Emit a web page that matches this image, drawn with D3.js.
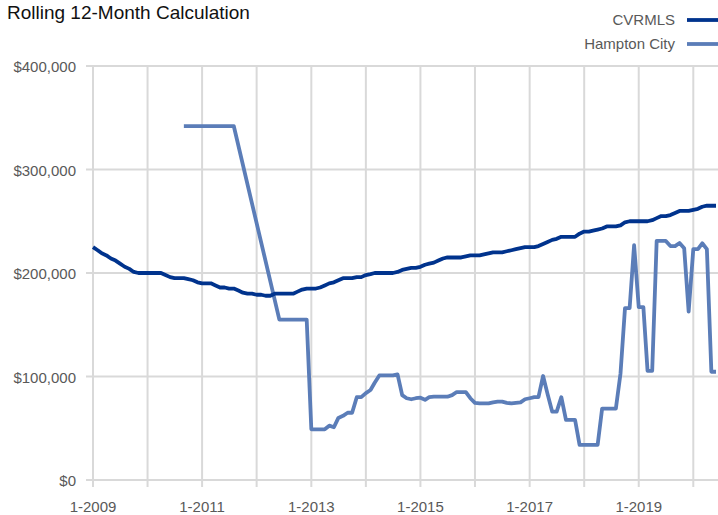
<html>
    <head>
        <script src="https://d3js.org/d3.v7.min.js"></script>
        <style>
            body { margin: 0; background: #fff; }
            svg { font-family: "Liberation Sans", Arial, sans-serif; }
            .grid line { stroke: #d9d9d9; stroke-width: 2; }
            .tick-label { font-size: 15px; fill: #595959; }
            .line { fill: none; stroke-width: 3.8; stroke-linejoin: round; }
        </style>
    </head>
    <body>
        <div id="chart"></div>
        <script>
        // monthly values in $1000s, first month is Jan 2009
        var firstMonth = "2009-01";
        var seriesNames = ["CVRMLS", "Hampton City"];

        var cvrmls = [
            225, 222, 219, 217, 214, 212, 209, 206, 204, 201, 200, 200,
            200, 200, 200, 200, 198, 196, 195, 195, 195, 194, 193, 191,
            190, 190, 190, 188, 186, 186, 185, 185, 183, 181, 180, 180,
            179, 179, 178, 178, 180, 180, 180, 180, 180, 182, 184, 185,
            185, 185, 186, 188, 190, 191, 193, 195, 195, 195, 196, 196,
            198, 199, 200, 200, 200, 200, 200, 201, 203, 204, 205, 205,
            206, 208, 209, 210, 212, 214, 215, 215, 215, 215, 216, 217,
            217, 217, 218, 219, 220, 220, 220, 221, 222, 223, 224, 225,
            225, 225, 226, 228, 230, 232, 233, 235, 235, 235, 235, 238,
            240, 240, 241, 242, 243, 245, 245, 245, 246, 249, 250, 250,
            250, 250, 250, 251, 253, 255, 255, 256, 258, 260, 260, 260,
            261, 262, 264, 265, 265, 265
        ];

        var hampton = [
            null, null, null, null, null, null, null, null, null, null, null, null,
            null, null, null, null, null, null, null, null, 342, 342, 342, 342,
            342, 342, 342, 342, 342, 342, 342, 342, null, null, null, null,
            null, null, null, null, null, 155, 155, 155, 155, 155, 155, 155,
            49, 49, 49, 49, 52.5, 51, 60, 62, 65, 65, 80, 80,
            84, 87, 94, 101, 101, 101, 101, 102, 82, 79, 78, 79,
            79.5, 77.5, 80, 80.5, 80.5, 80.5, 80.5, 82, 85, 85, 85, 79,
            74.5, 74, 74, 74, 75, 75.7, 75.7, 74.5, 74, 74.6, 75, 78,
            79, 80, 80, 100.5, 83, 66, 66, 80, 58, 58, 58, 34,
            34, 34, 34, 34, 69, 69, 69, 69, 103, 166, 166, 227,
            167, 167, 105.5, 105.5, 231, 231, 231, 226, 226, 229, 224, 162.6,
            223, 223, 228.7, 223, 104.6, 104.6
        ];

        var yTicks = [0, 100000, 200000, 300000, 400000];
        var labelYears = [2009, 2011, 2013, 2015, 2017, 2019];

        var width = 718;
        var height = 515;
        var plotLeft = 93, plotRight = 716, plotTop = 66, plotBottom = 480;
        var color = d3.scaleOrdinal(seriesNames, ["#00338d", "#5b7db8"]);

        var start = d3.timeParse("%Y-%m")(firstMonth);
        function toPoints(values) {
            return values.map(function(v, i) {
                return {date: d3.timeMonth.offset(start, i), value: v == null ? null : v * 1000};
            }).filter(function(d) { return d.value != null; });
        }
        var data = [
            {name: seriesNames[0], values: toPoints(cvrmls)},
            {name: seriesNames[1], values: toPoints(hampton)}
        ];

        var xScale = d3.scaleTime()
            .domain([start, d3.timeMonth.offset(start, cvrmls.length - 1)])
            .range([plotLeft, plotRight]);
        var yScale = d3.scaleLinear()
            .domain([0, 400000])
            .range([plotBottom, plotTop]);

        var svg = d3.select("#chart").append("svg")
            .attr("width", width)
            .attr("height", height);

        /* grid */
        var grid = svg.append("g").attr("class", "grid");
        grid.selectAll(".h").data(yTicks).enter().append("line")
            .attr("x1", plotLeft - 7).attr("x2", width)
            .attr("y1", d => yScale(d)).attr("y2", d => yScale(d));
        var years = d3.timeYear.range(start, xScale.domain()[1]);
        grid.selectAll(".v").data(years).enter().append("line")
            .attr("x1", d => xScale(d)).attr("x2", d => xScale(d))
            .attr("y1", plotTop).attr("y2", plotBottom + 7);

        /* tick labels */
        var money = d3.format("$,");
        svg.selectAll(".ylab").data(yTicks).enter().append("text")
            .attr("class", "tick-label")
            .attr("x", 76)
            .attr("y", d => yScale(d) + 6)
            .attr("text-anchor", "end")
            .text(d => money(d));

        var fmt = d3.timeFormat("%-m-%Y");
        svg.selectAll(".xlab").data(labelYears).enter().append("text")
            .attr("class", "tick-label")
            .attr("x", d => xScale(new Date(d, 0, 1)))
            .attr("y", 512)
            .attr("text-anchor", "middle")
            .text(d => fmt(new Date(d, 0, 1)));

        /* lines */
        var line = d3.line()
            .x(d => xScale(d.date))
            .y(d => yScale(d.value));

        svg.selectAll(".line").data(data.slice().reverse()).enter().append("path")
            .attr("class", "line")
            .attr("d", d => line(d.values))
            .style("stroke", d => color(d.name));

        /* title */
        svg.append("text")
            .attr("x", 7)
            .attr("y", 19)
            .style("font-size", "19px")
            .attr("fill", "#111")
            .text("Rolling 12-Month Calculation");

        /* legend */
        var legend = svg.selectAll(".legend").data(seriesNames).enter().append("g")
            .attr("transform", (d, i) => "translate(0," + (20 + i * 24) + ")");
        legend.append("text")
            .attr("class", "tick-label")
            .attr("x", 675)
            .attr("y", 5)
            .attr("text-anchor", "end")
            .text(d => d);
        legend.append("line")
            .attr("x1", 687).attr("x2", 718)
            .attr("stroke", d => color(d))
            .attr("stroke-width", 3.8);
        </script>
    </body>
</html>
